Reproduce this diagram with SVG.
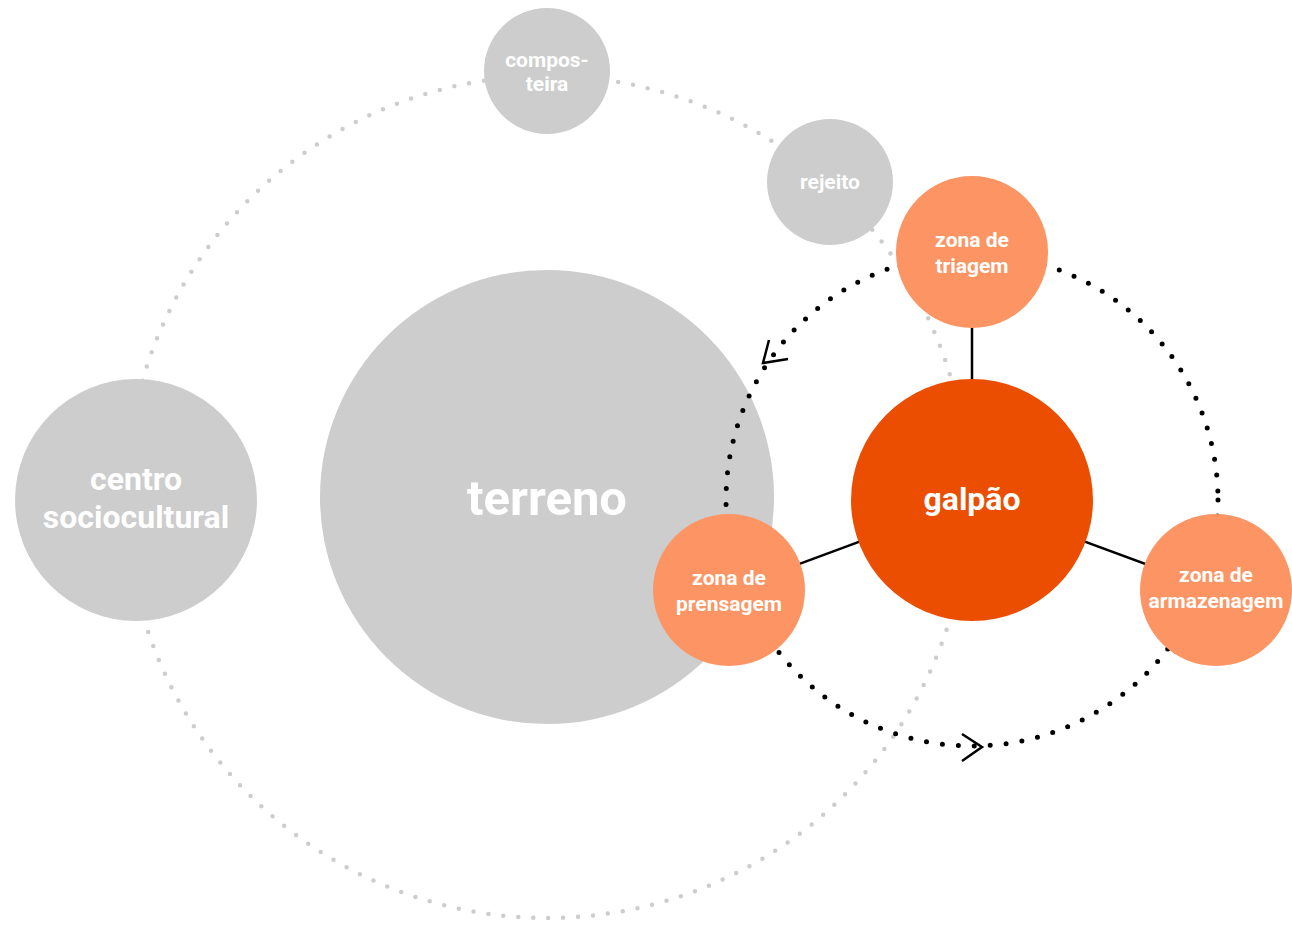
<svg xmlns="http://www.w3.org/2000/svg" width="1292" height="926" viewBox="0 0 1292 926">
<style>
.gray{fill:#cdcdcd}
.zone{fill:#fc9563}
.main{fill:#eb4e00}
.t{fill:#fff;font-family:Roboto,"Liberation Sans",sans-serif;font-weight:700;text-anchor:middle}
.ring{fill:none;stroke:#cdcdcd;stroke-width:4.5;stroke-linecap:round;stroke-dasharray:0 15}
.flow{fill:none;stroke:#000;stroke-width:5;stroke-linecap:round;stroke-dasharray:0 16}
.link{stroke:#000;stroke-width:2.5}
.arr{fill:none;stroke:#000;stroke-width:2.5}
</style>
<rect width="1292" height="926" fill="#fff"/>
<g id="connectors-back">
<circle class="ring" cx="547" cy="497" r="421"/>
</g>
<g id="terreno">
<circle class="gray" cx="547" cy="497" r="227"/>
<text class="t" x="547" y="515" font-size="49">terreno</text>
</g>
<g id="connectors">
<circle class="flow" cx="972" cy="500" r="246"/>
<line class="link" x1="972" y1="252" x2="972" y2="500"/>
<line class="link" x1="729" y1="590" x2="972" y2="500"/>
<line class="link" x1="1216" y1="590" x2="972" y2="500"/>
<polyline class="arr" points="769,340 763,363 788,359"/>
<polyline class="arr" points="962,734 982,747 962,761"/>
</g>
<g id="composteira">
<circle class="gray" cx="547" cy="71" r="63"/>
<text class="t" x="547" y="67" font-size="21">compos-</text>
<text class="t" x="547" y="91" font-size="21">teira</text>
</g>
<g id="rejeito">
<circle class="gray" cx="830" cy="182" r="63"/>
<text class="t" x="830" y="189" font-size="21">rejeito</text>
</g>
<g id="centro-sociocultural">
<circle class="gray" cx="136" cy="500" r="121"/>
<text class="t" x="136" y="490" font-size="32">centro</text>
<text class="t" x="136" y="528" font-size="32">sociocultural</text>
</g>
<g id="galpao">
<circle class="main" cx="972" cy="500" r="121"/>
<text class="t" x="972" y="510" font-size="32">galpão</text>
</g>
<g id="zona-triagem">
<circle class="zone" cx="972" cy="252" r="76"/>
<text class="t" x="972" y="247" font-size="21">zona de</text>
<text class="t" x="972" y="273" font-size="21">triagem</text>
</g>
<g id="zona-prensagem">
<circle class="zone" cx="729" cy="590" r="76"/>
<text class="t" x="729" y="585" font-size="21">zona de</text>
<text class="t" x="729" y="611" font-size="21">prensagem</text>
</g>
<g id="zona-armazenagem">
<circle class="zone" cx="1216" cy="590" r="76"/>
<text class="t" x="1216" y="582" font-size="21">zona de</text>
<text class="t" x="1216" y="608" font-size="21">armazenagem</text>
</g>
</svg>
